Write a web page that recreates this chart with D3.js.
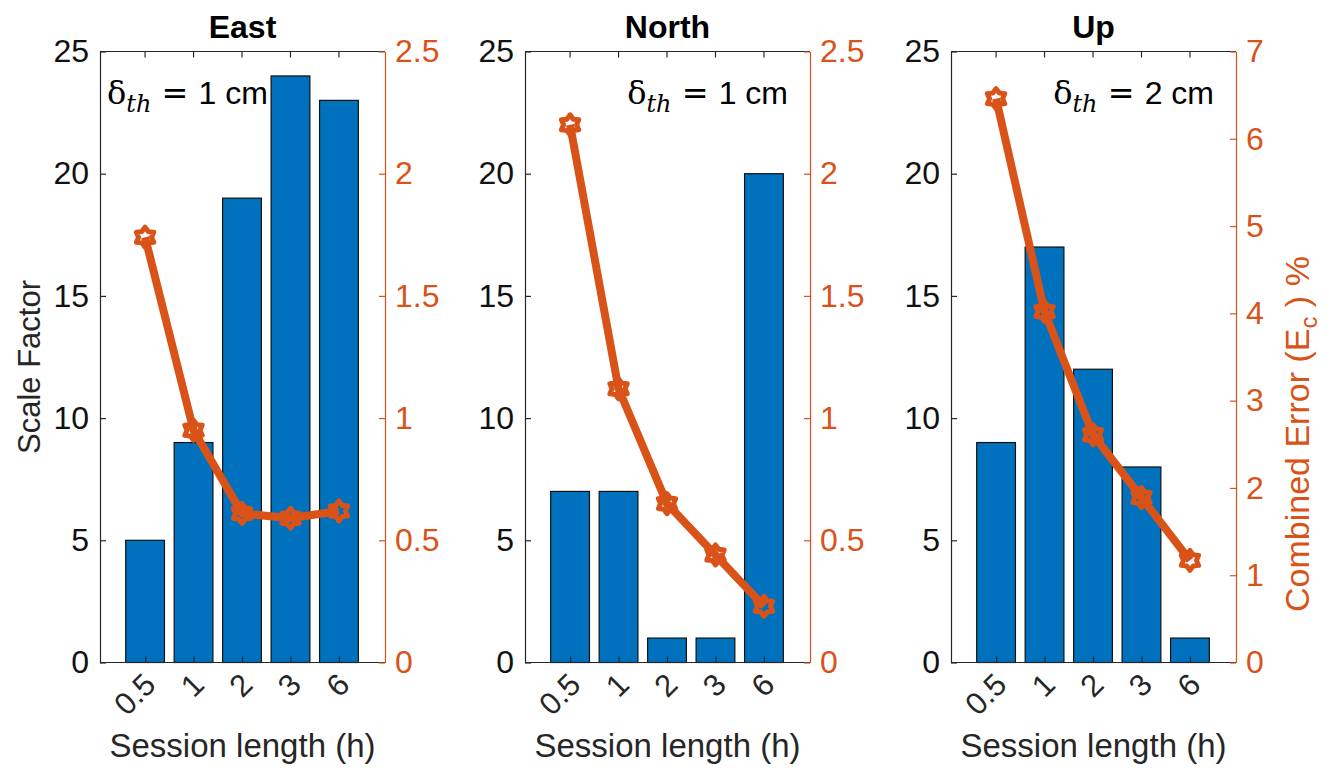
<!DOCTYPE html>
<html>
<head>
<meta charset="utf-8">
<script src="https://cdn.jsdelivr.net/npm/d3@7"></script>
<style>
  body { margin: 0; background: #fff; }
  svg text { font-family: "Liberation Sans", Arial, sans-serif; }
</style>
</head>
<body>
<svg id="chart" width="1334" height="775"></svg>
<script>
// data
const panelTitles = ["East", "North", "Up"];
const sessionLabels = ["0.5", "1", "2", "3", "6"];
const scaleEast = [5, 9, 19, 24, 23];
const scaleNorth = [7, 7, 1, 1, 20];
const scaleUp = [9, 17, 12, 8, 1];
const errorEast = [1.74, 0.95, 0.61, 0.59, 0.62];
const errorNorth = [2.2, 1.12, 0.65, 0.44, 0.23];
const errorUp = [6.46, 4.02, 2.61, 1.89, 1.17];
const thresholds = ["1", "1", "2"];
const leftTicks = [0, 5, 10, 15, 20, 25];
const rightTicksEN = [0, 0.5, 1, 1.5, 2, 2.5];
const rightTicksUp = [0, 1, 2, 3, 4, 5, 6, 7];

const blue = "#0072BD", orange = "#D95319", ink = "#262626";

let svg = d3.select("#chart");

let plotTop = 51.5, plotBottom = 662.5, pw = 285;
let panelLeft = [100, 525, 951];
let fmt = d3.format("~g");

let panels = [
    { scale: scaleEast, err: errorEast, rTicks: rightTicksEN, rMax: 2.5 },
    { scale: scaleNorth, err: errorNorth, rTicks: rightTicksEN, rMax: 2.5 },
    { scale: scaleUp, err: errorUp, rTicks: rightTicksUp, rMax: 7 }
];

// hexagram marker path
function hexagram(r) {
    let pts = [];
    for (let i = 0; i < 12; i++) {
        let a = -Math.PI / 2 + i * Math.PI / 6;
        let rr = i % 2 === 0 ? r : r * 0.65;
        pts.push([rr * Math.cos(a), rr * Math.sin(a)]);
    }
    return "M" + pts.map(p => p.join(",")).join("L") + "Z";
}

panels.forEach((p, k) => {
    let x0 = panelLeft[k];
    let x = d3.scaleLinear().domain([0.07, 5.95]).range([x0, x0 + pw]);
    let y = d3.scaleLinear().domain([0, 25]).range([plotBottom, plotTop]);
    let y2 = d3.scaleLinear().domain([0, p.rMax]).range([plotBottom, plotTop]);
    let g = svg.append("g");
    let idx = d3.range(1, 6);

    // bars
    g.selectAll("rect.bar")
        .data(p.scale)
        .enter().append("rect")
        .attr("class", "bar")
        .attr("x", (d, i) => x(idx[i] - 0.4))
        .attr("width", x(1.4) - x(0.6))
        .attr("y", d => y(d))
        .attr("height", d => y(0) - y(d))
        .attr("fill", blue)
        .attr("stroke", "#111")
        .attr("stroke-width", 1.2);

    // top border + ticks
    g.append("line").attr("x1", x0).attr("x2", x0 + pw)
        .attr("y1", plotTop).attr("y2", plotTop).attr("stroke", ink).attr("stroke-width", 1.2);
    g.selectAll("line.tt").data(idx).enter().append("line")
        .attr("x1", d => x(d)).attr("x2", d => x(d))
        .attr("y1", plotTop).attr("y2", plotTop + 6)
        .attr("stroke", ink).attr("stroke-width", 1.2);

    // bottom axis
    let xAxis = d3.axisBottom(x).tickValues(idx)
        .tickFormat((d, i) => sessionLabels[i])
        .tickSizeInner(-6).tickSizeOuter(0);
    let gx = g.append("g").attr("transform", "translate(0," + plotBottom + ")").call(xAxis);
    gx.select(".domain").attr("stroke", ink).attr("stroke-width", 1.2)
        .attr("d", "M" + x0 + ",0H" + (x0 + pw));
    gx.selectAll(".tick line").attr("stroke", ink).attr("stroke-width", 1.2);
    gx.selectAll(".tick text")
        .attr("fill", ink).attr("font-size", 31)
        .attr("text-anchor", "end")
        .attr("dy", null).attr("y", 0)
        .attr("transform", "translate(12,24) rotate(-45)");

    // left axis
    let yAxis = d3.axisLeft(y).tickValues(leftTicks).tickFormat(fmt)
        .tickSizeInner(-6).tickSizeOuter(0).tickPadding(11);
    let gy = g.append("g").attr("transform", "translate(" + x0 + ",0)").call(yAxis);
    gy.select(".domain").attr("stroke", ink).attr("stroke-width", 1.2);
    gy.selectAll(".tick line").attr("stroke", ink).attr("stroke-width", 1.2);
    gy.selectAll(".tick text").attr("fill", "#111").attr("font-size", 32);

    // right axis
    let rAxis = d3.axisRight(y2).tickValues(p.rTicks).tickFormat(fmt)
        .tickSizeInner(-6).tickSizeOuter(0).tickPadding(10);
    let gr = g.append("g").attr("transform", "translate(" + (x0 + pw) + ",0)").call(rAxis);
    gr.select(".domain").attr("stroke", orange).attr("stroke-width", 1.2);
    gr.selectAll(".tick line").attr("stroke", orange).attr("stroke-width", 1.2);
    gr.selectAll(".tick text").attr("fill", orange).attr("font-size", 32);

    // error line
    let line = d3.line().x((d, i) => x(idx[i])).y(d => y2(d));
    g.append("path").datum(p.err)
        .attr("d", line)
        .attr("fill", "none")
        .attr("stroke", orange)
        .attr("stroke-width", 8)
        .attr("stroke-linejoin", "round");
    g.selectAll("path.mk").data(p.err).enter().append("path")
        .attr("class", "mk")
        .attr("d", hexagram(10))
        .attr("transform", (d, i) => "translate(" + x(idx[i]) + "," + y2(d) + ")")
        .attr("fill", "none")
        .attr("stroke", orange)
        .attr("stroke-width", 5)
        .attr("stroke-linejoin", "round");

    // title
    g.append("text")
        .attr("x", x0 + pw / 2).attr("y", 38)
        .attr("text-anchor", "middle")
        .attr("font-size", 32).attr("font-weight", "bold")
        .attr("fill", "#000")
        .text(panelTitles[k]);

    // x label
    g.append("text")
        .attr("x", x0 + pw / 2).attr("y", 757)
        .attr("text-anchor", "middle")
        .attr("font-size", 33).attr("fill", ink)
        .text("Session length (h)");

    // threshold annotation
    let ann = g.append("text")
        .attr("y", 104).attr("font-size", 32).attr("fill", "#000");
    if (k === 0) ann.attr("x", x0 + 7).attr("text-anchor", "start");
    else ann.attr("x", x0 + pw - 22).attr("text-anchor", "end");
    ann.append("tspan").attr("font-family", "DejaVu Serif").text("δ");
    ann.append("tspan").attr("font-family", "DejaVu Serif").attr("font-style", "italic")
        .attr("font-size", 24).attr("dy", 8).text("th");
    ann.append("tspan").attr("dy", -8).attr("font-family", "DejaVu Sans").text(" = ");
    ann.append("tspan").text(thresholds[k] + " cm");
});

// y axis titles
svg.append("text")
    .attr("transform", "translate(40,367) rotate(-90)")
    .attr("text-anchor", "middle")
    .attr("font-size", 31).attr("fill", ink)
    .text("Scale Factor");

let rl = svg.append("text")
    .attr("transform", "translate(1309,612) rotate(-90)")
    .attr("text-anchor", "start")
    .attr("font-size", 34).attr("fill", orange);
rl.append("tspan").text("Combined Error (E");
rl.append("tspan").attr("font-size", 24).attr("dy", 8).text("c");
rl.append("tspan").attr("dy", -8).text(" ) %");
</script>
</body>
</html>
